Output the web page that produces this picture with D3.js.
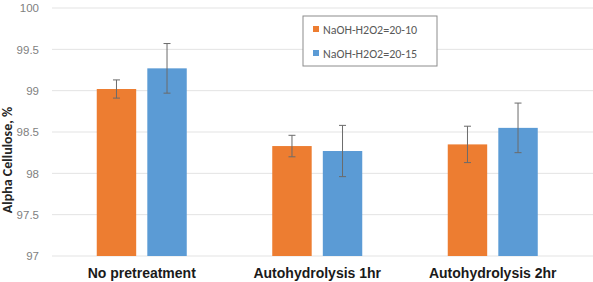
<!DOCTYPE html>
<html>
<head>
<meta charset="utf-8">
<script src="https://cdn.jsdelivr.net/npm/d3@7"></script>
<style>
  body { margin: 0; background: #fff; }
  svg { display: block; font-family: Carlito, "Liberation Sans", Arial, sans-serif; }
</style>
</head>
<body>
<svg id="chart" width="593" height="282"></svg>
<script>
const categories = ['No pretreatment', 'Autohydrolysis 1hr', 'Autohydrolysis 2hr']
const seriesNames = ['NaOH-H2O2=20-10', 'NaOH-H2O2=20-15']
const values1010 = [99.02, 98.33, 98.35]
const values1015 = [99.27, 98.27, 98.55]
const errors1010 = [0.11, 0.13, 0.22]
const errors1015 = [0.30, 0.31, 0.30]
const yTicks = [97, 97.5, 98, 98.5, 99, 99.5, 100]
const colors = ['#ed7d31', '#5b9bd5']

const svg = d3.select('#chart')
const width = 593, height = 282
const margin = { top: 8, right: 12.5, bottom: 26, left: 54 }

const rows = categories.map((c, i) => ({
    category: c,
    bars: [
        { series: 0, value: values1010[i], err: errors1010[i] },
        { series: 1, value: values1015[i], err: errors1015[i] }
    ]
}))

// scales
const x = d3.scaleBand()
    .domain(categories)
    .range([margin.left, width - margin.right])

const xInner = d3.scaleBand()
    .domain([0, 1])
    .range([0, 90])
    .paddingInner(0.22)

const y = d3.scaleLinear()
    .domain([97, 100])
    .range([height - margin.bottom, margin.top])

// gridlines
svg.append('g')
    .selectAll('line')
    .data(yTicks)
    .enter()
    .append('line')
    .attr('x1', 52)
    .attr('x2', width)
    .attr('y1', d => y(d))
    .attr('y2', d => y(d))
    .attr('stroke', '#e3e3e3')
    .attr('stroke-width', 1)

// y axis labels
const yAxis = svg.append('g')
    .attr('transform', `translate(39,0)`)
    .call(d3.axisLeft(y).tickValues(yTicks).tickSize(0).tickPadding(0).tickFormat(d3.format('')))
yAxis.select('.domain').remove()
yAxis.selectAll('text')
    .style('font-size', '11.5px')
    .attr('fill', '#7f7f7f')

// y label
svg.append('text')
    .attr('transform', `translate(12,160) rotate(-90)`)
    .attr('text-anchor', 'middle')
    .style('font-size', '14px')
    .style('font-weight', 'bold')
    .attr('fill', '#262626')
    .text('Alpha Cellulose, %')

// x axis labels
const xAxis = svg.append('g')
    .attr('transform', `translate(0,${height - margin.bottom})`)
    .call(d3.axisBottom(x).tickSize(0).tickPadding(12))
xAxis.select('.domain').remove()
xAxis.selectAll('text')
    .style('font-size', '14px')
    .style('font-weight', 'bold')
    .attr('fill', '#1a1a1a')

// bars
const groups = svg.selectAll('.group')
    .data(rows)
    .enter()
    .append('g')
    .attr('class', 'group')
    .attr('transform', d => `translate(${x(d.category) + x.bandwidth() / 2 - 45},0)`)

groups.selectAll('rect')
    .data(d => d.bars)
    .enter()
    .append('rect')
    .attr('x', d => xInner(d.series))
    .attr('y', d => y(d.value))
    .attr('width', xInner.bandwidth())
    .attr('height', d => y(97) - y(d.value))
    .attr('fill', d => colors[d.series])

// error bars
const err = groups.selectAll('.err')
    .data(d => d.bars)
    .enter()
    .append('g')
    .attr('class', 'err')
    .attr('stroke', '#6b6b6b')
    .attr('stroke-width', 1)

err.append('line')
    .attr('x1', d => xInner(d.series) + xInner.bandwidth() / 2)
    .attr('x2', d => xInner(d.series) + xInner.bandwidth() / 2)
    .attr('y1', d => y(d.value + d.err))
    .attr('y2', d => y(d.value - d.err))
err.append('line')
    .attr('x1', d => xInner(d.series) + xInner.bandwidth() / 2 - 3.5)
    .attr('x2', d => xInner(d.series) + xInner.bandwidth() / 2 + 3.5)
    .attr('y1', d => y(d.value + d.err))
    .attr('y2', d => y(d.value + d.err))
err.append('line')
    .attr('x1', d => xInner(d.series) + xInner.bandwidth() / 2 - 3.5)
    .attr('x2', d => xInner(d.series) + xInner.bandwidth() / 2 + 3.5)
    .attr('y1', d => y(d.value - d.err))
    .attr('y2', d => y(d.value - d.err))

// legend
const legend = svg.append('g')
    .attr('transform', 'translate(303,16)')
legend.append('rect')
    .attr('width', 134)
    .attr('height', 50)
    .attr('fill', '#fff')
    .attr('stroke', '#8c8c8c')
    .attr('stroke-width', 1)

const items = legend.selectAll('.item')
    .data(seriesNames)
    .enter()
    .append('g')
    .attr('class', 'item')
    .attr('transform', (d, i) => `translate(10,${13 + i * 24})`)
items.append('rect')
    .attr('x', 0)
    .attr('y', -3)
    .attr('width', 6)
    .attr('height', 6)
    .attr('fill', (d, i) => colors[i])
items.append('text')
    .attr('x', 10)
    .attr('y', 4.5)
    .style('font-size', '12px')
    .attr('fill', '#595959')
    .text(d => d)
</script>
</body>
</html>
